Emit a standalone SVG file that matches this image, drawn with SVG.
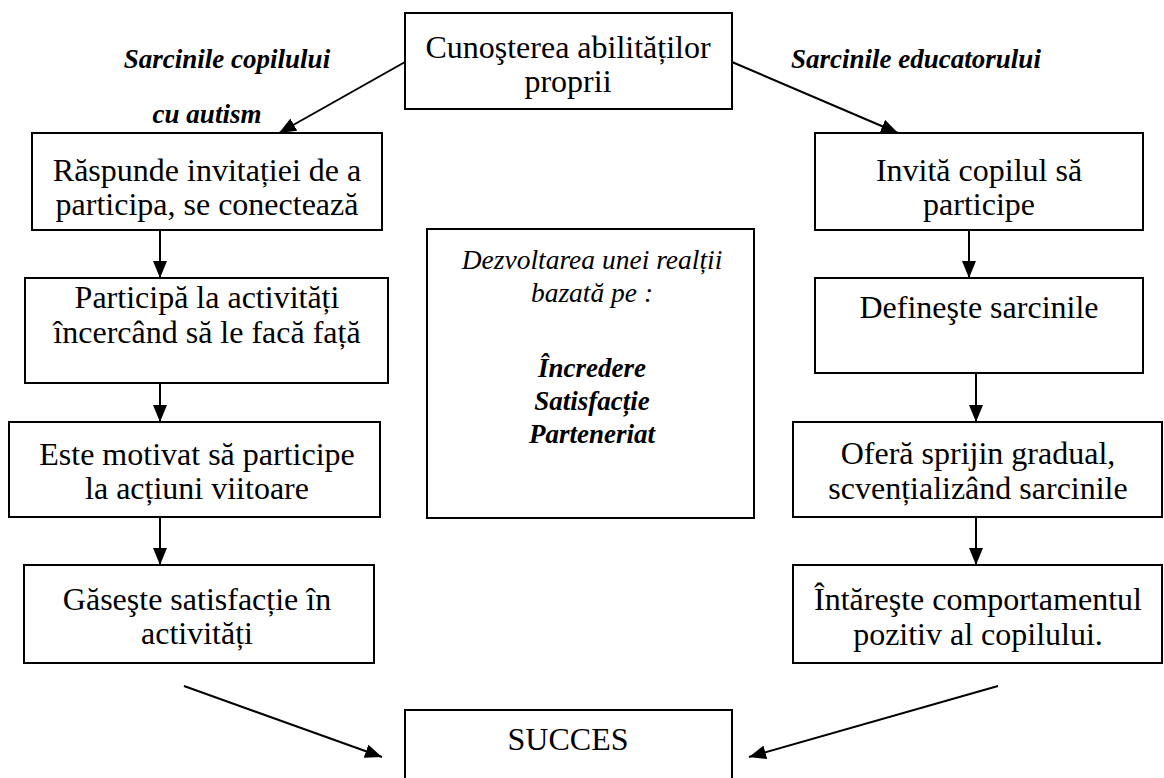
<svg xmlns="http://www.w3.org/2000/svg" width="1164" height="778" viewBox="0 0 1164 778">
<style>
.box{fill:#fff;stroke:#000;stroke-width:2}
.t{font-family:'Liberation Serif','DejaVu Serif',serif;font-size:32px;fill:#000;text-anchor:middle}
.lab{font-family:'Liberation Serif','DejaVu Serif',serif;font-size:27px;font-style:italic;font-weight:bold;fill:#000;text-anchor:middle}
.it{font-family:'Liberation Serif','DejaVu Serif',serif;font-size:27.5px;font-style:italic;fill:#000;text-anchor:middle}
.itb{font-family:'Liberation Serif','DejaVu Serif',serif;font-size:27px;font-style:italic;font-weight:bold;fill:#000;text-anchor:middle}
.c{stroke:#000;stroke-width:2;fill:none;marker-end:url(#ah)}
</style>
<defs>
<marker id="ah" markerWidth="17" markerHeight="14" refX="17" refY="7" orient="auto" markerUnits="userSpaceOnUse">
<path d="M0,0 L17,7 L0,14 Z" fill="#000"/>
</marker>
</defs>
<rect width="1164" height="778" fill="#fff"/>

<g id="connectors">
<line class="c" x1="405" y1="62" x2="279" y2="133"/>
<line class="c" x1="732" y1="62" x2="898" y2="133"/>
<line class="c" x1="160" y1="230" x2="160" y2="278"/>
<line class="c" x1="160" y1="383" x2="160" y2="422"/>
<line class="c" x1="160" y1="517" x2="160" y2="565"/>
<line class="c" x1="969" y1="230" x2="969" y2="278"/>
<line class="c" x1="976" y1="373" x2="976" y2="422"/>
<line class="c" x1="976" y1="517" x2="976" y2="565"/>
<line class="c" x1="184" y1="686" x2="382" y2="757"/>
<line class="c" x1="998" y1="686" x2="749" y2="757"/>
</g>

<g id="labels">
<text class="lab" x="227" y="68">Sarcinile copilului</text>
<text class="lab" x="207" y="123">cu autism</text>
<text class="lab" x="916" y="68">Sarcinile educatorului</text>
</g>

<g id="top">
<rect class="box" x="405" y="13" width="327" height="96"/>
<text class="t" x="568" y="58">Cunoşterea abilităților</text>
<text class="t" x="568" y="92">proprii</text>
</g>

<g id="l1">
<rect class="box" x="32" y="133" width="350" height="97"/>
<text class="t" x="207" y="181">Răspunde invitației de a</text>
<text class="t" x="207" y="215">participa, se conectează</text>
</g>
<g id="l2">
<rect class="box" x="25" y="278" width="363" height="105"/>
<text class="t" x="207" y="308">Participă la activități</text>
<text class="t" x="207" y="343">încercând să le facă față</text>
</g>
<g id="l3">
<rect class="box" x="9" y="422" width="371" height="95"/>
<text class="t" x="197" y="465">Este motivat să participe</text>
<text class="t" x="197" y="499">la acțiuni viitoare</text>
</g>
<g id="l4">
<rect class="box" x="24" y="565" width="350" height="98"/>
<text class="t" x="197" y="610">Găseşte satisfacție în</text>
<text class="t" x="197" y="644">activități</text>
</g>

<g id="r1">
<rect class="box" x="815" y="133" width="328" height="97"/>
<text class="t" x="979" y="181">Invită copilul să</text>
<text class="t" x="979" y="215">participe</text>
</g>
<g id="r2">
<rect class="box" x="815" y="278" width="328" height="95"/>
<text class="t" x="979" y="318">Defineşte sarcinile</text>
</g>
<g id="r3">
<rect class="box" x="793" y="422" width="369" height="95"/>
<text class="t" x="978" y="464">Oferă sprijin gradual,</text>
<text class="t" x="978" y="499">scvențializând sarcinile</text>
</g>
<g id="r4">
<rect class="box" x="793" y="565" width="369" height="98"/>
<text class="t" x="978" y="610">Întăreşte comportamentul</text>
<text class="t" x="978" y="645">pozitiv al copilului.</text>
</g>

<g id="middle">
<rect class="box" x="427" y="229" width="327" height="289"/>
<text class="it" x="592" y="269">Dezvoltarea unei realții</text>
<text class="it" x="592" y="302">bazată pe :</text>
<text class="itb" x="592" y="377">Încredere</text>
<text class="itb" x="592" y="410">Satisfacție</text>
<text class="itb" x="592" y="443">Parteneriat</text>
</g>

<g id="succes">
<rect class="box" x="405" y="710" width="327" height="80"/>
<text class="t" x="568" y="750">SUCCES</text>
</g>
</svg>
